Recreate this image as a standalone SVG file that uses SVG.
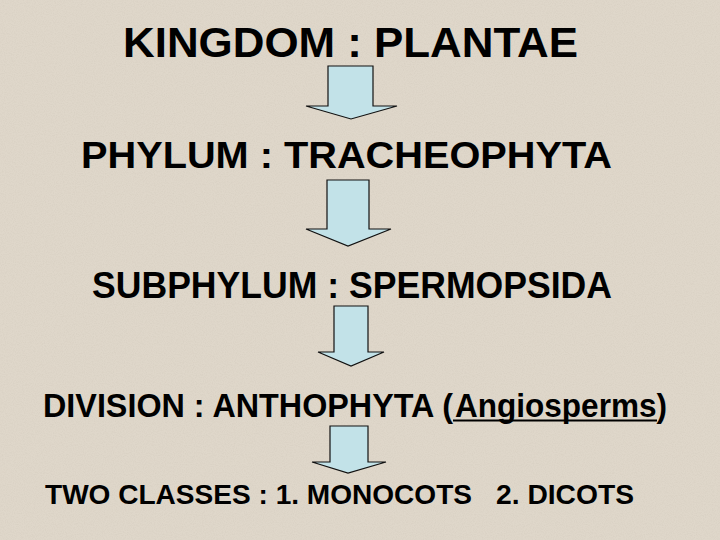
<svg xmlns="http://www.w3.org/2000/svg" width="720" height="540" viewBox="0 0 720 540">
  <style>
    .t { font-family: "Liberation Sans", Arial, sans-serif; font-weight: bold; fill: #000; }
    .arrow { fill: #C2E2E8; stroke: #111; stroke-width: 1.2; stroke-linejoin: miter; }
  </style>
  <defs>
    <filter id="grain" x="0" y="0" width="100%" height="100%">
      <feTurbulence type="fractalNoise" baseFrequency="0.9" numOctaves="2" seed="3" result="n"/>
      <feColorMatrix type="matrix" values="0 0 0 0 0.55  0 0 0 0 0.50  0 0 0 0 0.42  0 0 0 -1.2 0.75" in="n" result="c"/>
      <feComposite in="c" in2="SourceGraphic" operator="in"/>
    </filter>
  </defs>
  <rect width="720" height="540" fill="#DFD7CA"/>
  <rect width="720" height="540" fill="#DFD7CA" filter="url(#grain)" opacity="0.35"/>

  <g id="kingdom">
    <text class="t" x="123" y="57" font-size="42" textLength="455" lengthAdjust="spacingAndGlyphs">KINGDOM : PLANTAE</text>
  </g>
  <g id="phylum">
    <text class="t" x="81" y="168" font-size="37" textLength="531" lengthAdjust="spacingAndGlyphs">PHYLUM : TRACHEOPHYTA</text>
  </g>
  <g id="subphylum">
    <text class="t" x="92" y="298" font-size="36" textLength="520" lengthAdjust="spacingAndGlyphs">SUBPHYLUM : SPERMOPSIDA</text>
  </g>
  <g id="division">
    <text class="t" x="43" y="417" font-size="34" textLength="410" lengthAdjust="spacingAndGlyphs">DIVISION : ANTHOPHYTA (</text>
    <text class="t" x="455" y="417" font-size="34" textLength="212" lengthAdjust="spacingAndGlyphs">Angiosperms)</text>
    <line x1="453" y1="420.5" x2="657" y2="420.5" stroke="#000" stroke-width="2.2"/>
  </g>
  <g id="classes">
    <text class="t" x="45" y="504" font-size="28" textLength="427" lengthAdjust="spacingAndGlyphs">TWO CLASSES : 1. MONOCOTS</text>
    <text class="t" x="496" y="504" font-size="28" textLength="138" lengthAdjust="spacingAndGlyphs">2. DICOTS</text>
  </g>

  <g id="connectors">
    <polygon class="arrow" points="328,66 373,66 373,106 397,106 351,119 306,106 328,106"/>
    <polygon class="arrow" points="327,180 369,180 369,229 391,229 348,246 306,229 327,229"/>
    <polygon class="arrow" points="334,306 368,306 368,352 384,352 351,366 318,352 334,352"/>
    <polygon class="arrow" points="330,426 368,426 368,462 386,462 348,473 312,462 330,462"/>
  </g>
</svg>
